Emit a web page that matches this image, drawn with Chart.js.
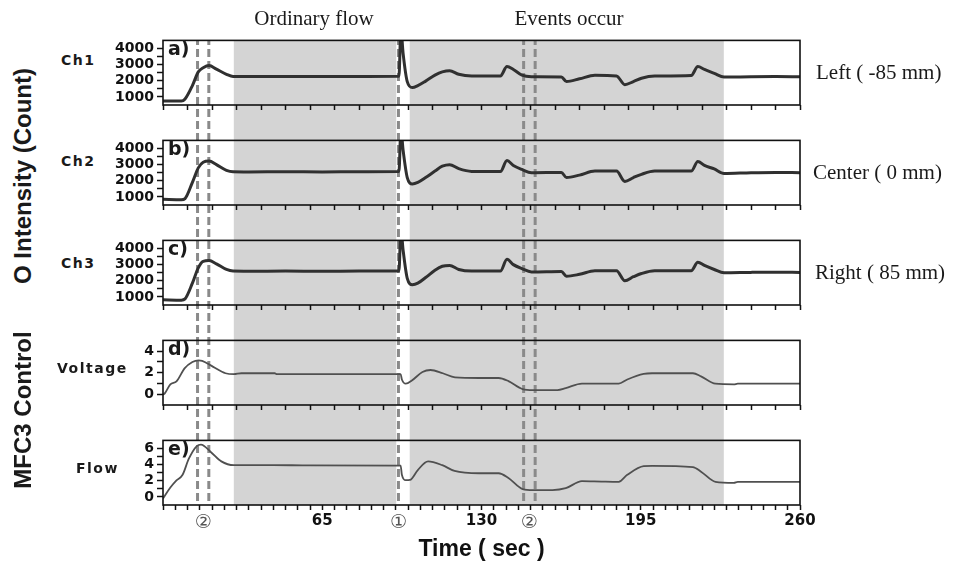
<!DOCTYPE html>
<html>
<head>
<meta charset="utf-8">
<title>O intensity and MFC3 control</title>
<script src="https://cdn.jsdelivr.net/npm/chart.js@4.4.1/dist/chart.umd.min.js"></script>
<style>
  html, body { margin: 0; padding: 0; background: #fff; }
  #page { position: relative; width: 961px; height: 565px; overflow: hidden; }
  .panel { position: absolute; left: 100px; }
  .txt { position: absolute; white-space: nowrap; line-height: 1; color: #1a1a1a; transform: translateY(-50%); }
  .mid { transform: translate(-50%, -50%); }
  .serif { font-family: "Liberation Serif", "DejaVu Serif", serif; font-size: 21px; }
  .ch { font-family: "DejaVu Sans", sans-serif; font-weight: bold; font-size: 14px; letter-spacing: 1.5px; }
  .tag { font-family: "DejaVu Sans", sans-serif; font-weight: bold; font-size: 19px; }
  .big { font-family: "Liberation Sans", Arial, sans-serif; font-weight: bold; font-size: 24px;
         transform: translate(-50%, -50%) rotate(-90deg); }
</style>
</head>
<body>
<div id="page">
  <canvas class="panel" id="p0" width="730" height="100" style="top:29px"></canvas>
  <canvas class="panel" id="p1" width="730" height="100" style="top:129px"></canvas>
  <canvas class="panel" id="p2" width="730" height="100" style="top:229px"></canvas>
  <canvas class="panel" id="p3" width="730" height="100" style="top:329px"></canvas>
  <canvas class="panel" id="p4" width="730" height="136" style="top:429px"></canvas>

  <div class="txt serif mid" style="left:314px;top:18px">Ordinary flow</div>
  <div class="txt serif mid" style="left:569px;top:18px">Events occur</div>

  <div class="txt serif" style="left:816px;top:72px">Left ( -85 mm)</div>
  <div class="txt serif" style="left:813px;top:172px">Center ( 0 mm)</div>
  <div class="txt serif" style="left:815px;top:272px">Right ( 85 mm)</div>

  <div class="txt ch" style="left:61px;top:60px">Ch1</div>
  <div class="txt ch" style="left:61px;top:161px">Ch2</div>
  <div class="txt ch" style="left:61px;top:263px">Ch3</div>
  <div class="txt ch" style="left:57px;top:368px">Voltage</div>
  <div class="txt ch" style="left:76px;top:468px">Flow</div>

  <div class="txt big" style="left:23px;top:176px">O Intensity (Count)</div>
  <div class="txt big" style="left:23px;top:410px">MFC3 Control</div>

  <div class="txt tag" style="left:168px;top:48px">a)</div>
  <div class="txt tag" style="left:168px;top:148px">b)</div>
  <div class="txt tag" style="left:168px;top:248px">c)</div>
  <div class="txt tag" style="left:168px;top:348px">d)</div>
  <div class="txt tag" style="left:168px;top:448px">e)</div>
</div>

<script>
// time (sec) for the three O intensity channels
const tIntensity = [0, 7.5, 9, 12, 14.4, 16.4, 18.8, 21.8, 25.9, 28.6, 35, 50, 65, 80, 96.3, 97.1, 98, 99.7,
  101.8, 104, 107.2, 111, 114, 117, 120.7, 126, 137.7, 140.4, 143, 146.5, 150.4, 162.6, 164.7, 170, 176.3,
  185.1, 188.5, 192, 195.3, 200.7, 215.6, 218.3, 221, 225, 229, 240, 250, 260];

const ch1Counts = [750, 740, 870, 1700, 2550, 2810, 2950, 2720, 2400, 2260, 2260, 2270, 2260, 2270, 2280, 5200,
  3700, 1950, 1580, 1700, 1980, 2350, 2550, 2620, 2400, 2300, 2300, 2880, 2700, 2350, 2250, 2240, 1950, 2120,
  2340, 2300, 1760, 1950, 2160, 2300, 2330, 2880, 2700, 2460, 2230, 2250, 2260, 2250];

const ch2Counts = [850, 830, 900, 1900, 2800, 3150, 3220, 3000, 2650, 2560, 2550, 2560, 2550, 2560, 2570, 5200,
  3900, 2200, 1800, 1900, 2200, 2600, 2900, 3000, 2750, 2580, 2570, 3250, 2950, 2700, 2500, 2520, 2200, 2350,
  2600, 2600, 1960, 2200, 2400, 2600, 2600, 3190, 2950, 2730, 2450, 2500, 2520, 2500];

const ch3Counts = [820, 800, 880, 1850, 2800, 3200, 3250, 3050, 2700, 2600, 2590, 2600, 2590, 2600, 2600, 5200,
  3900, 2150, 1760, 1850, 2200, 2650, 2900, 2950, 2700, 2600, 2600, 3330, 3000, 2750, 2550, 2580, 2280, 2400,
  2620, 2620, 2000, 2250, 2450, 2620, 2620, 3150, 2950, 2700, 2500, 2520, 2530, 2520];

// MFC3 voltage
const tVoltage = [0, 0.8, 3, 5.5, 8.8, 12, 14.5, 16, 20.5, 25.5, 28.9, 32, 45.6, 46.5, 97, 97.5, 99.1, 101.7,
  105.9, 109.2, 114.2, 119.2, 129, 137, 141, 146.8, 151, 161, 164.4, 171, 186, 189.5, 196.2, 199.6, 216.3,
  219.6, 225.5, 233, 234.6, 260];
const voltage = [-0.05, 0.1, 0.92, 1.2, 2.4, 3.0, 3.15, 3.1, 2.54, 1.95, 1.86, 1.95, 1.95, 1.86, 1.86, 1.37,
  0.98, 1.3, 2.07, 2.25, 1.95, 1.57, 1.51, 1.51, 1.22, 0.48, 0.39, 0.39, 0.57, 0.98, 0.98, 1.37, 1.89, 1.95,
  1.95, 1.66, 0.98, 0.92, 0.98, 0.98];

// MFC3 flow
const tFlow = [0, 3, 5.5, 8, 10.5, 13.8, 15.5, 19.7, 23.8, 28.9, 45, 60, 97, 97.5, 99.1, 100.8, 104, 108.2,
  114, 119, 129, 137, 141, 146.8, 151, 159, 164.4, 171, 179, 186, 189.5, 196.2, 199.6, 216.3, 219.6, 225.5,
  233, 234.6, 260];
const flow = [-0.2, 1.16, 2.04, 2.74, 4.7, 6.3, 6.48, 5.5, 4.4, 3.93, 3.95, 3.9, 3.88, 2.74, 2.07, 2.1, 3.33,
  4.4, 3.93, 3.22, 2.93, 2.93, 2.34, 0.97, 0.85, 0.85, 1.08, 1.95, 1.9, 1.87, 2.74, 3.81, 3.85, 3.7, 3.13,
  1.87, 1.75, 1.87, 1.87];

// shaded periods and dashed event markers (sec)
const shadedSpans = [[28.9, 95.2], [100.7, 228.9]];
const markerTimes = [14.1, 18.7, 96.1, 147.2, 151.9];
const markerTimesLabelled = [16.4, 96.1, 149.5];
const markerNames = ['②', '①', '②'];
const xLabelled = [65, 130, 195, 260];

const PLOT_TOP = 37;     // page y of the first plot frame
const DASH = [8, 4];

function range(from, to, step) {
  const out = [];
  for (let v = from; v <= to + 1e-9; v += step) out.push(+v.toFixed(6));
  return out;
}

const panels = [
  { t: tIntensity, v: ch1Counts, min: 500, max: 4500, ticks: range(1000, 4000, 500), every: 1000, lw: 3, color: '#303030' },
  { t: tIntensity, v: ch2Counts, min: 500, max: 4500, ticks: range(1000, 4000, 500), every: 1000, lw: 3, color: '#303030' },
  { t: tIntensity, v: ch3Counts, min: 500, max: 4500, ticks: range(1000, 4000, 500), every: 1000, lw: 3, color: '#303030' },
  { t: tVoltage, v: voltage, min: -1, max: 5, ticks: range(0, 4, 1), every: 2, lw: 1.8, color: '#505050' },
  { t: tFlow, v: flow, min: -1, max: 7, ticks: range(0, 6, 1), every: 2, lw: 1.8, color: '#505050' }
];

// Shading, dashed markers and the panel frame, all placed through the x scale.
function overlay(index, count, pageTop) {
  return {
    id: 'overlay' + index,
    beforeDraw(chart) {
      const { ctx, chartArea, scales } = chart;
      const y0 = index === 0 ? chartArea.top : 0;
      const y1 = index === count - 1 ? chartArea.bottom : chart.height;
      ctx.save();
      ctx.fillStyle = '#d4d4d4';
      shadedSpans.forEach(([a, b]) => {
        const x0 = scales.x.getPixelForValue(a);
        const x1 = scales.x.getPixelForValue(b);
        ctx.fillRect(x0, y0, x1 - x0, y1 - y0);
      });
      ctx.restore();
    },
    beforeDatasetsDraw(chart) {
      const { ctx, chartArea, scales } = chart;
      const y0 = index === 0 ? chartArea.top : 0;
      const y1 = index === count - 1 ? chartArea.bottom : chart.height;
      ctx.save();
      ctx.strokeStyle = '#8a8a8a';
      ctx.lineWidth = 3;
      ctx.setLineDash(DASH);
      ctx.lineDashOffset = (pageTop + y0 - PLOT_TOP) % (DASH[0] + DASH[1]);
      markerTimes.forEach(t => {
        const x = scales.x.getPixelForValue(t);
        ctx.beginPath();
        ctx.moveTo(x, y0);
        ctx.lineTo(x, y1);
        ctx.stroke();
      });
      ctx.restore();
    },
    afterDatasetsDraw(chart) {
      const { ctx, chartArea } = chart;
      ctx.save();
      ctx.strokeStyle = '#111';
      ctx.lineWidth = 1.6;
      ctx.strokeRect(chartArea.left, chartArea.top, chartArea.right - chartArea.left, chartArea.bottom - chartArea.top);
      ctx.restore();
    }
  };
}

const isMark = v => markerTimesLabelled.includes(v);

panels.forEach((p, i) => {
  const last = i === panels.length - 1;
  const canvas = document.getElementById('p' + i);
  const pageTop = parseFloat(canvas.style.top);
  const xTicks = last ? range(0, 260, 5).concat(markerTimesLabelled).sort((a, b) => a - b) : range(0, 260, 10);

  new Chart(canvas, {
    type: 'line',
    data: {
      datasets: [{
        data: p.t.map((t, k) => ({ x: t, y: p.v[k] })),
        borderColor: p.color,
        borderWidth: p.lw,
        pointRadius: 0,
        cubicInterpolationMode: 'monotone',
        fill: false
      }]
    },
    options: {
      responsive: false,
      animation: false,
      events: [],
      layout: { padding: { top: 8, right: 30, bottom: 0, left: 0 } },
      plugins: { legend: { display: false }, tooltip: { enabled: false } },
      scales: {
        x: {
          type: 'linear',
          min: 0,
          max: 260,
          afterBuildTicks: s => { s.ticks = xTicks.map(v => ({ value: v })); },
          afterFit: s => { s.height = last ? 60 : 24; s.paddingLeft = 0; s.paddingRight = 0; },
          border: { display: false },
          grid: {
            drawOnChartArea: false,
            drawTicks: true,
            tickLength: 5,
            tickWidth: 1.5,
            tickColor: ctx => (ctx.tick && isMark(ctx.tick.value)) ? 'rgba(0,0,0,0)' : '#111'
          },
          ticks: {
            display: last,
            autoSkip: false,
            maxRotation: 0,
            padding: 2,
            color: ctx => (ctx.tick && isMark(ctx.tick.value)) ? '#555' : '#111',
            font: ctx => (ctx.tick && isMark(ctx.tick.value))
              ? { family: 'DejaVu Sans', size: 19, weight: 'normal' }
              : { family: 'DejaVu Sans', size: 15, weight: 'bold' },
            callback: v => {
              const m = markerTimesLabelled.indexOf(v);
              if (m >= 0) return markerNames[m];
              return xLabelled.includes(v) ? String(v) : '';
            }
          },
          title: {
            display: last,
            text: 'Time ( sec )',
            color: '#111',
            font: { family: 'Liberation Sans', size: 23, weight: 'bold' },
            padding: { top: 0, bottom: 2 }
          }
        },
        y: {
          min: p.min,
          max: p.max,
          afterBuildTicks: s => { s.ticks = p.ticks.map(v => ({ value: v })); },
          afterFit: s => { s.width = 63; },
          border: { display: false },
          grid: { drawOnChartArea: false, drawTicks: true, tickLength: 6, tickWidth: 1.5, tickColor: '#111' },
          ticks: {
            autoSkip: false,
            padding: 3,
            color: '#111',
            font: { family: 'DejaVu Sans', size: 14, weight: 'bold' },
            callback: v => (v % p.every === 0 ? String(v) : '')
          }
        }
      }
    },
    plugins: [overlay(i, panels.length, pageTop)]
  });
});
</script>
</body>
</html>
